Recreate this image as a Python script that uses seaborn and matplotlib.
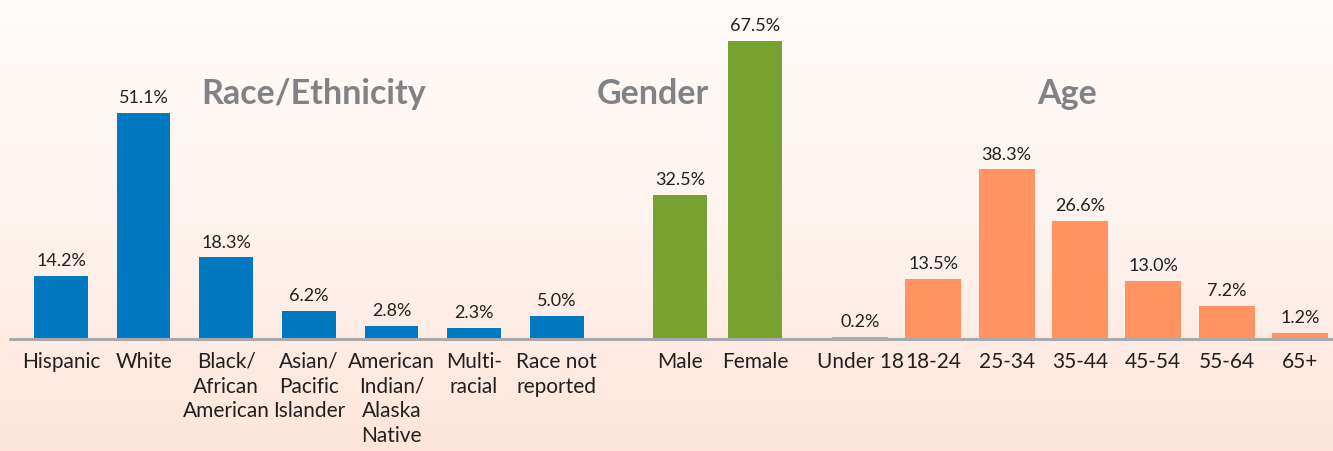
import numpy as np
import pandas as pd
import matplotlib
matplotlib.use("Agg")
import matplotlib.pyplot as plt
from matplotlib.lines import Line2D
from matplotlib.colors import LinearSegmentedColormap
import seaborn as sns

# data
race_labels = ["Hispanic", "White", "Black/\nAfrican\nAmerican", "Asian/\nPacific\nIslander",
               "American\nIndian/\nAlaska\nNative", "Multi-\nracial", "Race not\nreported"]
race_values = [14.2, 51.1, 18.3, 6.2, 2.8, 2.3, 5.0]
gender_labels = ["Male", "Female"]
gender_values = [32.5, 67.5]
age_labels = ["Under 18", "18-24", "25-34", "35-44", "45-54", "55-64", "65+"]
age_values = [0.2, 13.5, 38.3, 26.6, 13.0, 7.2, 1.2]

W, H = 1333, 451
sns.set_style("white")
label_font = ["Lato", "DejaVu Sans"]
title_font = ["Lato", "DejaVu Sans"]
text_dark = "#231F20"
title_gray = "#808285"

fig = plt.figure(figsize=(W / 100, H / 100), dpi=100)

# background gradient
bg = fig.add_axes([0, 0, 1, 1], zorder=-10)
cmap = LinearSegmentedColormap.from_list("bg", ["#FFFBF9", "#FEF3EE", "#FFE5DB"])
bg.imshow(np.linspace(0, 1, 256).reshape(-1, 1), aspect="auto", cmap=cmap,
          extent=[0, 1, 0, 1])
bg.set_axis_off()

base_y = 338          # baseline in pixels from the top
px_per_pct = 4.4
ymax = base_y / px_per_pct


def make_panel(left, right, labels, values, color, width, title, title_x):
    ax = fig.add_axes([left / W, (H - base_y) / H, (right - left) / W, base_y / H])
    df = pd.DataFrame({"cat": labels, "val": values})
    sns.barplot(data=df, x="cat", y="val", order=labels, color=color,
                saturation=1, width=width, linewidth=0, ax=ax)
    ax.set_xlim(-0.5, len(labels) - 0.5)
    ax.set_ylim(0, ymax)
    ax.set_xlabel("")
    ax.set_ylabel("")
    ax.set_yticks([])
    for s in ax.spines.values():
        s.set_visible(False)
    ax.tick_params(axis="x", length=0, pad=10)
    for t in ax.get_xticklabels():
        t.set_fontfamily(label_font)
        t.set_fontsize(15)
        t.set_color(text_dark)
        t.set_linespacing(1.3)
    ax.bar_label(ax.containers[0], fmt="%.1f%%", padding=5,
                 fontsize=13, color=text_dark, family=label_font)
    fig.text(title_x / W, (H - 104) / H, title, ha="center", va="baseline",
             fontsize=24.5, fontweight="bold", color=title_gray, family=title_font)
    ax.patch.set_alpha(0)
    return ax


make_panel(19.7, 598, race_labels, race_values, "#0079C1", 0.65, "Race/Ethnicity", 314)
make_panel(642.5, 792.5, gender_labels, gender_values, "#78A22F", 0.72, "Gender", 653)
make_panel(823.3, 1336.7, age_labels, age_values, "#FF9462", 0.76, "Age", 1067)

# shared baseline
fig.add_artist(Line2D([10 / W, 1.0], [(H - base_y - 1) / H] * 2, color="#A7A9AC",
                      linewidth=2.2, transform=fig.transFigure, zorder=5))

fig.savefig("out.png", dpi=100)
